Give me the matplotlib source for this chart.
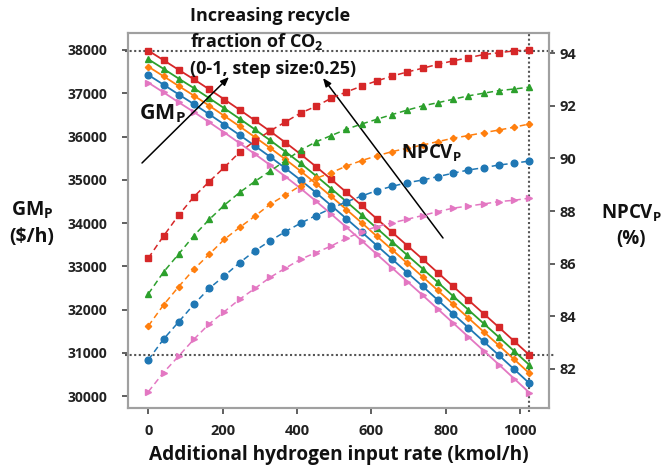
import matplotlib
matplotlib.use("Agg")
import matplotlib.pyplot as plt

FONT = 'Open Sans'
plt.rcParams['font.family'] = [FONT, 'DejaVu Sans']
plt.rcParams['font.weight'] = 'bold'
plt.rcParams['mathtext.fontset'] = 'custom'
plt.rcParams['mathtext.rm'] = FONT + ':bold'
plt.rcParams['mathtext.it'] = FONT + ':bold'
plt.rcParams['mathtext.bf'] = FONT + ':bold'

# ---------------- data ----------------
h2_rate = [0, 41, 82, 123, 164, 205, 246, 287, 328, 369, 410, 451, 492, 533,
           574, 615, 656, 697, 738, 779, 820, 861, 902, 943, 984, 1025]

recycle_fractions = ["1.0", "0.75", "0.5", "0.25", "0"]

gm_r100 = [37985, 37765, 37540, 37320, 37090, 36855, 36615, 36370, 36120, 35860,
           35590, 35305, 35010, 34710, 34405, 34095, 33785, 33475, 33165, 32850,
           32535, 32220, 31905, 31590, 31270, 30950]
gm_r075 = [37786, 37565, 37338, 37117, 36886, 36650, 36408, 36162, 35911, 35649,
           35378, 35092, 34796, 34494, 34188, 33877, 33566, 33254, 32943, 32627,
           32310, 31994, 31678, 31362, 31040, 30719]
gm_r050 = [37615, 37393, 37166, 36944, 36712, 36474, 36232, 35985, 35733, 35471,
           35199, 34912, 34615, 34312, 34005, 33693, 33381, 33069, 32757, 32440,
           32123, 31805, 31488, 31171, 30849, 30527]
gm_r025 = [37423, 37199, 36971, 36747, 36513, 36275, 36031, 35782, 35529, 35265,
           34991, 34703, 34404, 34100, 33791, 33478, 33164, 32850, 32537, 32218,
           31899, 31581, 31262, 30943, 30620, 30296]
gm_r000 = [37245, 37020, 36789, 36564, 36329, 36089, 35843, 35593, 35338, 35072,
           34797, 34507, 34207, 33901, 33591, 33276, 32961, 32645, 32330, 32010,
           31689, 31369, 31049, 30728, 30403, 30078]

npcv_r100 = [86.21, 87.05, 87.85, 88.55, 89.12, 89.67, 90.24, 90.67, 91.05, 91.39,
             91.73, 91.98, 92.29, 92.53, 92.75, 92.95, 93.13, 93.29, 93.43, 93.58,
             93.71, 93.83, 93.95, 94.02, 94.09, 94.13]
npcv_r075 = [84.85, 85.68, 86.37, 87.07, 87.68, 88.23, 88.71, 89.13, 89.52, 89.92,
             90.32, 90.63, 90.87, 91.11, 91.31, 91.49, 91.67, 91.84, 92.00, 92.12,
             92.25, 92.38, 92.48, 92.58, 92.64, 92.71]
npcv_r050 = [83.63, 84.43, 85.13, 85.79, 86.36, 86.93, 87.38, 87.81, 88.26, 88.61,
             88.97, 89.24, 89.46, 89.71, 89.92, 90.10, 90.26, 90.39, 90.51, 90.64,
             90.77, 90.87, 90.98, 91.08, 91.19, 91.31]
npcv_r025 = [82.34, 83.13, 83.79, 84.46, 85.06, 85.54, 86.04, 86.49, 86.87, 87.22,
             87.54, 87.83, 88.10, 88.35, 88.57, 88.78, 88.94, 89.08, 89.18, 89.31,
             89.44, 89.56, 89.65, 89.75, 89.82, 89.90]
npcv_r000 = [81.13, 81.86, 82.49, 83.13, 83.71, 84.18, 84.65, 85.06, 85.48, 85.83,
             86.17, 86.42, 86.67, 86.97, 87.21, 87.41, 87.55, 87.69, 87.83, 87.98,
             88.11, 88.19, 88.27, 88.36, 88.41, 88.49]

gm_series = [gm_r100, gm_r075, gm_r050, gm_r025, gm_r000]
npcv_series = [npcv_r100, npcv_r075, npcv_r050, npcv_r025, npcv_r000]

gm_ticks = [30000, 31000, 32000, 33000, 34000, 35000, 36000, 37000, 38000]
npcv_ticks = [82, 84, 86, 88, 90, 92, 94]
x_ticks = [0, 200, 400, 600, 800, 1000]

colors = ['#d62728', '#2ca02c', '#ff7f0e', '#1f77b4', '#e377c2']
markers = ['s', '^', 'D', 'o', '>']
msizes = [4.6, 4.6, 3.2, 4.8, 4.6]

# ---------------- figure ----------------
W, H = 662, 469
fig = plt.figure(figsize=(W / 100, H / 100), dpi=100)
ax = fig.add_axes([128.3 / W, 1 - 408.3 / H, (549.3 - 128.3) / W, (408.3 - 33) / H])
ax2 = ax.twinx()

for ys, c, m, ms in zip(gm_series, colors, markers, msizes):
    ax.plot(h2_rate, ys, color=c, lw=1.3, marker=m, ms=ms, mec=c, mfc=c, zorder=3)
for ys, c, m, ms in zip(npcv_series, colors, markers, msizes):
    ax2.plot(h2_rate, ys, color=c, lw=1.1, ls=(0, (4, 2.5)), marker=m, ms=ms,
             mec=c, mfc=c, zorder=3)

ax.set_xlim(-53.8, 1078.8)
ax.set_ylim(29716, 38393)
ax2.set_ylim(80.50, 94.77)

# reference dotted lines
dot_kw = dict(color='#555555', lw=1.5, ls=(0, (1, 1.2)), zorder=2)
ax.axhline(gm_r100[0], xmin=-0.008, xmax=1.01, clip_on=False, **dot_kw)
ax.axhline(gm_r100[-1], xmin=-0.008, xmax=1.01, clip_on=False, **dot_kw)
ax.axvline(h2_rate[-1], ymin=-0.01, ymax=1.0, clip_on=False, **dot_kw)

ax.set_xticks(x_ticks)
ax.set_yticks(gm_ticks)
ax2.set_yticks(npcv_ticks)

for a in (ax, ax2):
    for s in a.spines.values():
        s.set_color('#a0a0a0')
        s.set_linewidth(1.5)
ax.tick_params(axis='y', length=4, width=1.2, color='#444444', pad=11,
               labelsize=10, labelcolor='#222222')
ax.tick_params(axis='x', length=4, width=1.2, color='#444444', pad=7,
               labelsize=10.5, labelcolor='#222222')
ax2.tick_params(axis='y', length=4, width=1.2, color='#444444', pad=3,
                labelsize=10.5, labelcolor='#222222')
for lab in ax.get_xticklabels() + ax.get_yticklabels() + ax2.get_yticklabels():
    lab.set_fontweight('bold')

ax.set_xlabel('Additional hydrogen input rate (kmol/h)', fontsize=13.7,
              fontweight='bold', color='#111111')
ax.xaxis.set_label_coords(0.5, 1 - (455 - 33) / (408.3 - 33))
ax.xaxis.label.set_va('center')

def fpx(x, y):
    return x / W, 1 - y / H

# axis titles
fig.text(*fpx(32, 210), r'GM$_{P}$', ha='center', va='center', fontsize=14,
         fontweight='bold', color='#111111')
fig.text(*fpx(32, 237), '($/h)', ha='center', va='center', fontsize=14,
         fontweight='bold', color='#111111')
fig.text(*fpx(631, 213), r'NPCV$_{P}$', ha='center', va='center', fontsize=13.5,
         fontweight='bold', color='#111111')
fig.text(*fpx(631, 239), '(%)', ha='center', va='center', fontsize=13.5,
         fontweight='bold', color='#111111')

# annotation text block
fig.text(*fpx(190, 16), 'Increasing recycle', ha='left', va='center',
         fontsize=13, fontweight='bold', color='#111111')
fig.text(*fpx(190, 42), r'fraction of CO$_{2}$', ha='left', va='center',
         fontsize=13, fontweight='bold', color='#111111')
fig.text(*fpx(190, 69), '(0-1, step size:0.25)', ha='left', va='center',
         fontsize=13, fontweight='bold', color='#111111')

fig.text(*fpx(162, 114), r'GM$_{P}$', ha='center', va='center', fontsize=15.5,
         fontweight='bold', color='#111111')
fig.text(*fpx(431, 153), r'NPCV$_{P}$', ha='center', va='center', fontsize=13.5,
         fontweight='bold', color='#111111')

arrow_kw = dict(arrowstyle='-|>,head_length=0.5,head_width=0.2', color='black',
                lw=1.1, shrinkA=0, shrinkB=0)
ax.annotate('', xy=fpx(229, 77), xytext=fpx(142, 163), xycoords='figure fraction',
            textcoords='figure fraction', arrowprops=arrow_kw)
ax.annotate('', xy=fpx(323, 78), xytext=fpx(443, 238), xycoords='figure fraction',
            textcoords='figure fraction', arrowprops=arrow_kw)

fig.savefig('out.png', dpi=100)
